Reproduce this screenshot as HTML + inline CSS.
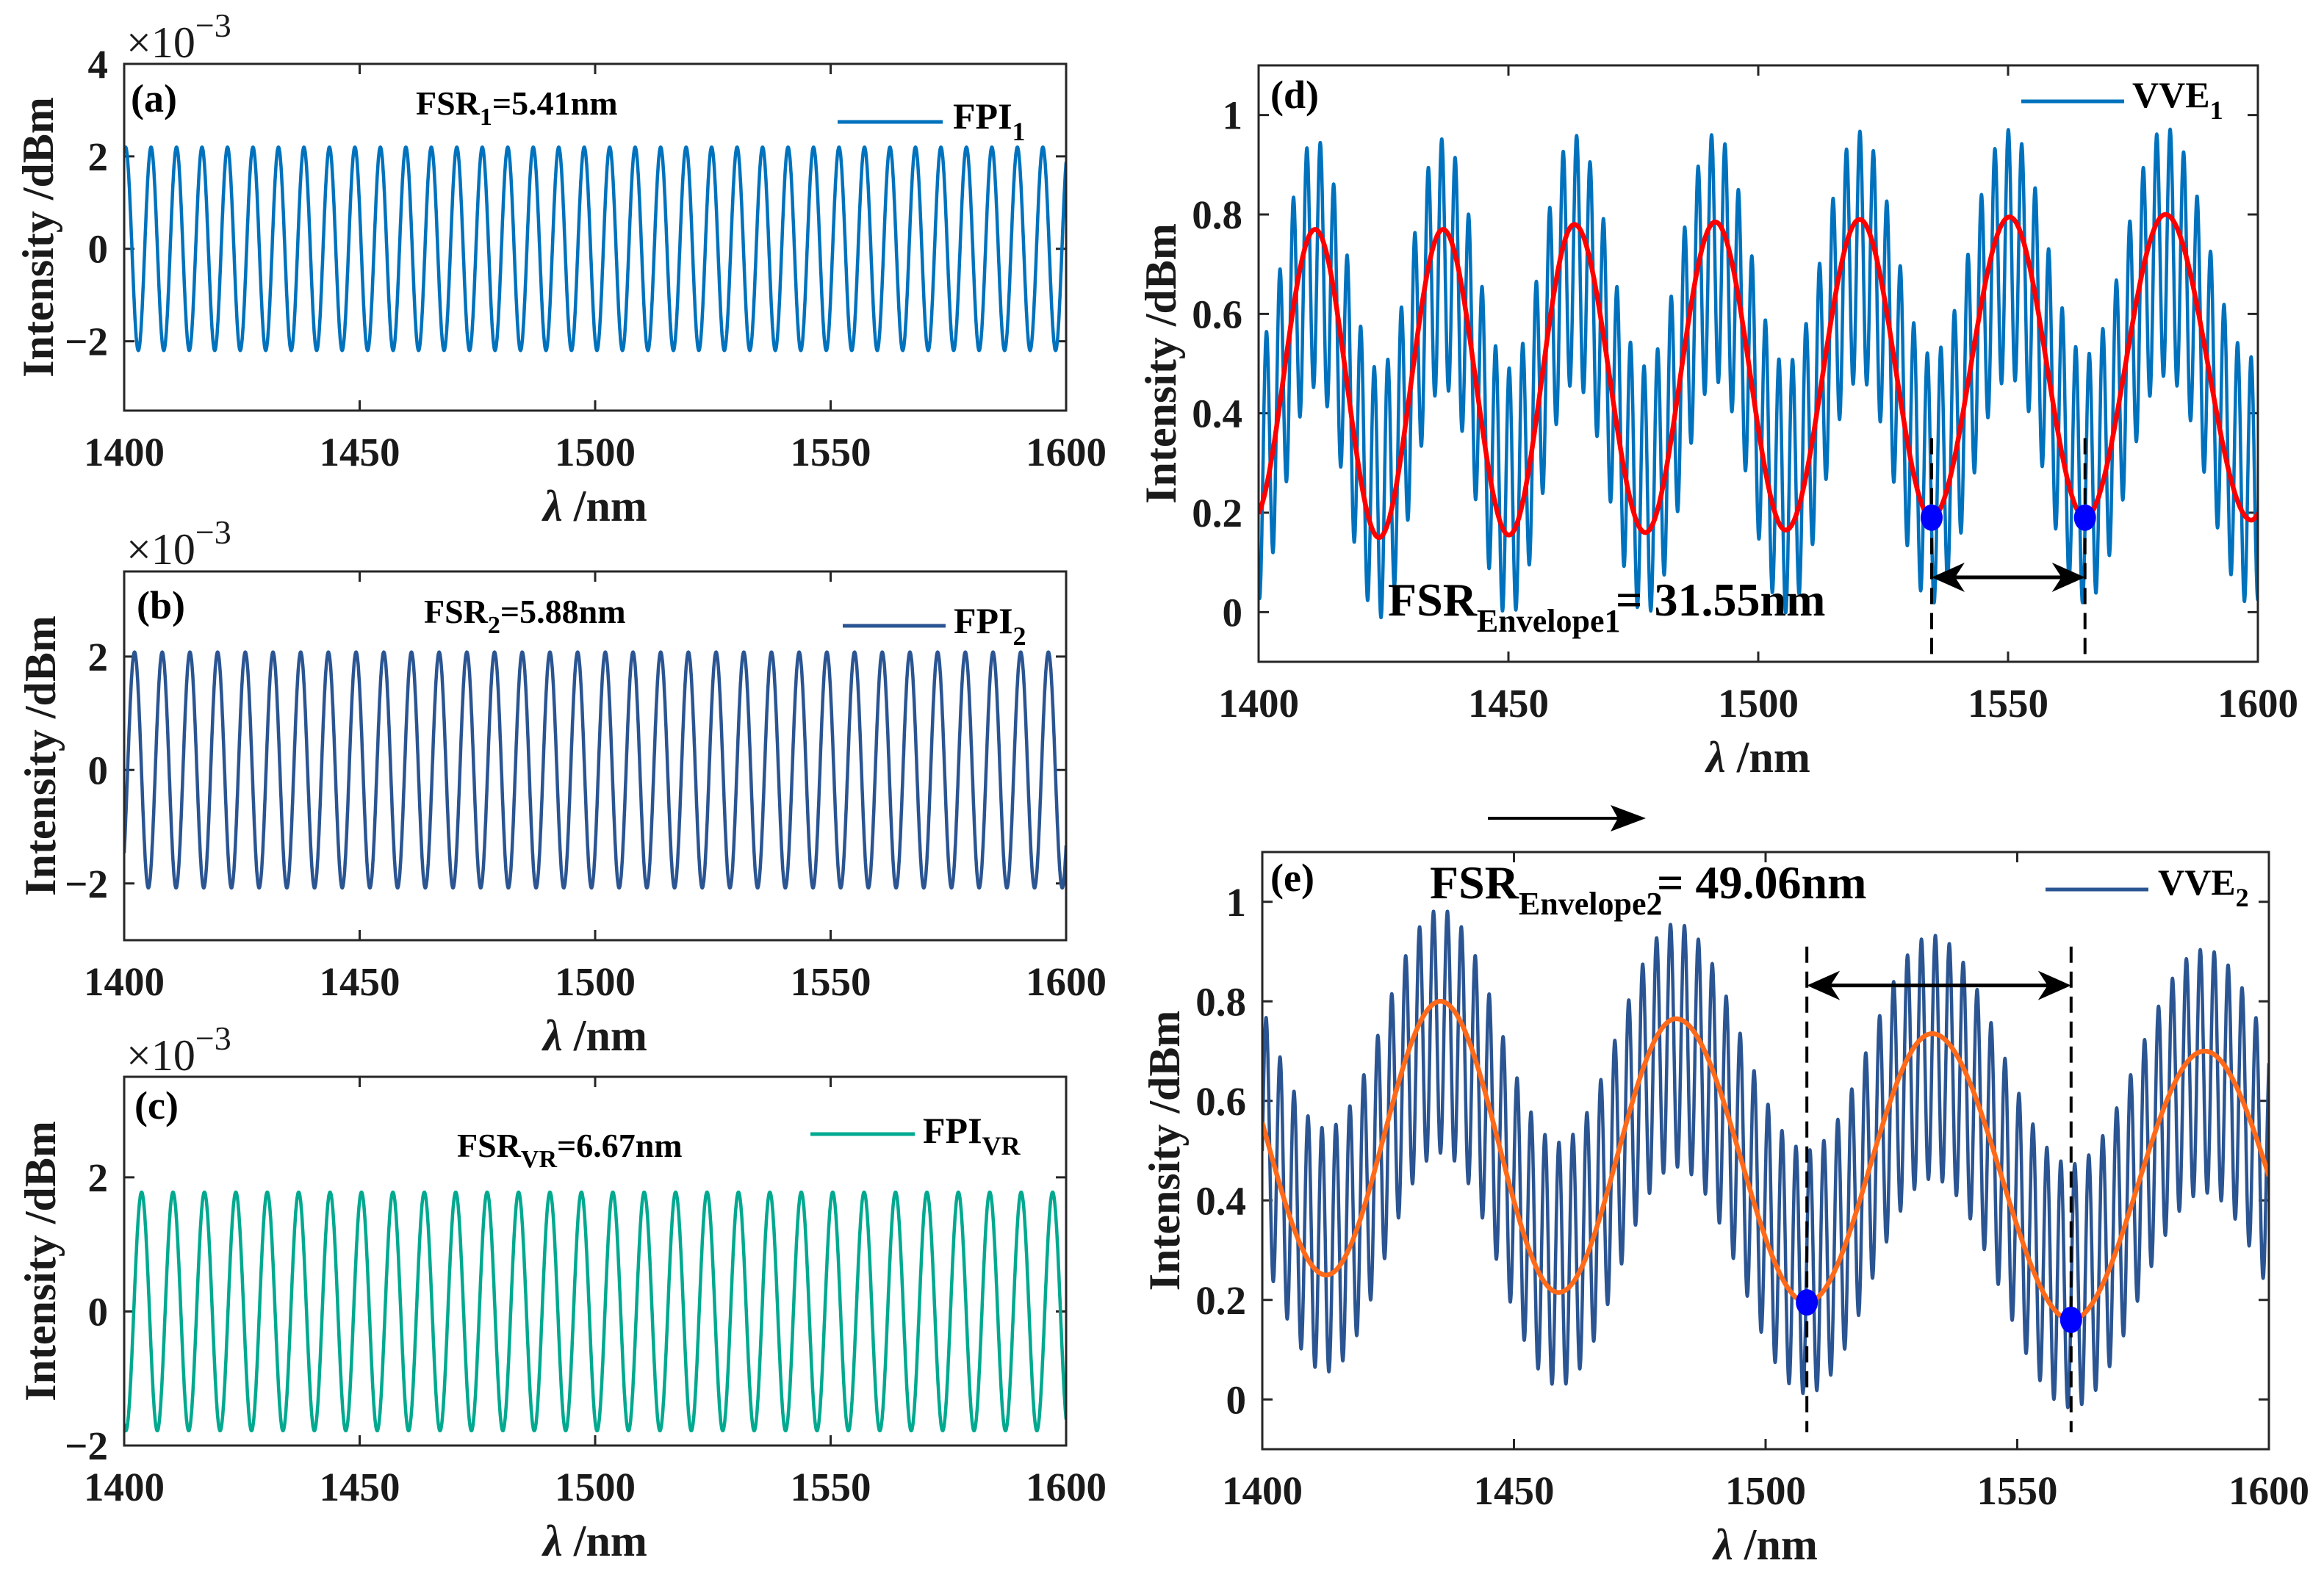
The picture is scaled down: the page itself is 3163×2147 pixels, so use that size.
<!DOCTYPE html>
<html><head><meta charset="utf-8">
<style>
html,body{margin:0;padding:0;background:#fff;}
svg{display:block;font-family:"Liberation Serif",serif;}
.tick{font-size:55px;font-weight:bold;fill:#1a1a1a;}
.lab{font-size:60px;font-weight:bold;fill:#1a1a1a;}
.ann{font-weight:bold;fill:#000;}
</style></head>
<body>
<svg id="fig" width="3163" height="2147" viewBox="0 0 3163 2147" xmlns="http://www.w3.org/2000/svg"></svg>
<script>
// ---- data ----
const xRange = [1400, 1600];
const xTicks = [1400, 1450, 1500, 1550, 1600];
// FPI sinusoids: [amplitude (x1e-3), period nm, first peak nm]
const fpi1Params = [2.2, 5.41, 1400.3];
const fpi2Params = [2.08, 5.88, 1402.2];
const fpiVrParams = [1.78, 6.67, 1403.7];
// Envelope 1 extrema (panel d)
const env1X = [1398.8, 1411.3, 1424.1, 1436.9, 1450.1, 1463.2, 1477.4, 1491.4, 1505.5, 1520.3, 1534.7, 1550.3, 1565.4, 1581.5, 1598.7, 1612];
const env1Y = [0.185, 0.77, 0.15, 0.77, 0.155, 0.78, 0.16, 0.785, 0.165, 0.79, 0.19, 0.795, 0.19, 0.80, 0.185, 0.80];
// carrier for VVE1: [amplitude, period nm, trough position nm, envelope compression]
const vve1Carrier = [0.25, 2.70, 1411.0, 0.75];
// Envelope 2 extrema (panel e)
const env2X = [1389, 1412.7, 1435.4, 1458.9, 1482.2, 1508.2, 1533.1, 1560.7, 1587.2, 1614];
const env2Y = [0.80, 0.25, 0.80, 0.215, 0.765, 0.195, 0.735, 0.16, 0.70, 0.16];
const vve2Carrier = [0.245, 2.77, 1435.4, 0.8];
// markers
const dotsD = [[1534.7, 0.19], [1565.4, 0.19]];
const dotsE = [[1508.2, 0.195], [1560.7, 0.16]];

const NS = "http://www.w3.org/2000/svg";
const svg = document.getElementById('fig');
function el(tag, attrs, parent) {
  const e = document.createElementNS(NS, tag);
  for (const k in attrs) e.setAttribute(k, attrs[k]);
  (parent || svg).appendChild(e);
  return e;
}
function envAt(xs, ys, x) {
  for (let i = 0; i < xs.length - 1; i++) {
    if (x >= xs[i] && x <= xs[i + 1]) {
      const t = (x - xs[i]) / (xs[i + 1] - xs[i]);
      return ys[i] + (ys[i + 1] - ys[i]) * (1 - Math.cos(Math.PI * t)) / 2;
    }
  }
  return ys[ys.length - 1];
}

function makePanel(id, l, r, t, b, y0, y1, yTicks, yFmt, ylabX) {
  const sx = x => l + (x - xRange[0]) / (xRange[1] - xRange[0]) * (r - l);
  const sy = y => b - (y - y0) / (y1 - y0) * (b - t);
  const g = el('g', {});
  
  
  const cp = el('clipPath', {id: 'clip-' + id}, g);
  el('rect', {x: l, y: t, width: r - l, height: b - t}, cp);
  xTicks.forEach(v => {
    const X = sx(v);
    const tk = el('path', {d: `M${X},${b}V${b - 14}M${X},${t}V${t + 14}`, stroke: '#262626', 'stroke-width': 3}, g);
    
    
    const tl = el('text', {x: X, y: b + 75, 'text-anchor': 'middle', class: 'tick'}, g);
    tl.textContent = v;
    
    
  });
  yTicks.forEach(v => {
    const Y = sy(v);
    const tk = el('path', {d: `M${l},${Y}H${l + 14}M${r},${Y}H${r - 14}`, stroke: '#262626', 'stroke-width': 3}, g);
    
    
    const tl = el('text', {x: l - 22, y: Y + 19, 'text-anchor': 'end', class: 'tick'}, g);
    tl.textContent = yFmt(v);
    
    
  });
  const xl = el('text', {x: (l + r) / 2, y: b + 150, 'text-anchor': 'middle', class: 'lab'}, g);
  xl.innerHTML = '<tspan font-style="italic">λ</tspan> /nm';
  
  
  const cy = (t + b) / 2;
  const yl = el('text', {x: ylabX, y: cy, 'text-anchor': 'middle', class: 'lab', 'font-size': 58, transform: `rotate(-90 ${ylabX} ${cy})`, 'dominant-baseline': 'central'}, g);
  yl.textContent = 'Intensity /dBm';
  
  
  const plot = el('g', {'clip-path': `url(#clip-${id})`}, g);
  const frame = () => {
    const f = el('rect', {x: l, y: t, width: r - l, height: b - t, fill: 'none', stroke: '#262626', 'stroke-width': 3}, g);
    
    
  };
  return {sx, sy, g, plot, frame, l, r, t, b};
}

function polyline(P, xs, fn, color, w, name) {
  let d = '';
  xs.forEach((x, i) => { d += (i ? 'L' : 'M') + P.sx(x).toFixed(1) + ',' + P.sy(fn(x)).toFixed(1); });
  const p = el('path', {d, fill: 'none', stroke: color, 'stroke-width': w, 'stroke-linejoin': 'round'}, P.plot);
  
  
}
function samples(step) { const a = []; for (let x = xRange[0]; x <= xRange[1] + 1e-9; x += step) a.push(x); return a; }
function txt(x, y, html, size, name, extra) {
  const t = el('text', Object.assign({x, y, class: 'ann', 'font-size': size}, extra || {}));
  t.innerHTML = html;
  
  
  return t;
}
function legendLine(x1, x2, y, color, name) {
  const ln = el('line', {x1, x2, y1: y, y2: y, stroke: color, 'stroke-width': 5});
  
  
}
function exponent(x, y, name) {
  const t = el('text', {x, y, 'font-size': 60, fill: '#1a1a1a'});
  t.innerHTML = '×10<tspan dy="-28" font-size="46">−3</tspan>';
  
  
}
const intFmt = v => (v < 0 ? '−' : '') + Math.abs(v);
const decFmt = v => (v === 0 ? '0' : v === 1 ? '1' : v.toFixed(1));
const sinFn = p => x => p[0] * Math.cos(2 * Math.PI * (x - p[2]) / p[1]);
const vveFn = (envFn, c) => x => 0.5 + (envFn(x) - 0.5) * c[3] - c[0] * Math.cos(2 * Math.PI * (x - c[2]) / c[1]);

// Panel (a)
const A = makePanel('a', 169, 1451, 87, 559, -3.5, 4, [-2, 0, 2, 4], intFmt, 52);
polyline(A, samples(0.05), sinFn(fpi1Params), '#0072BD', 4.5, 'fpi1-line');
A.frame();
exponent(172, 78, 'exponent-a');
txt(178, 152, '(a)', 54, 'panel-label-a');
txt(566, 156, 'FSR<tspan dy="14" font-size="34">1</tspan><tspan dy="-14">=5.41nm</tspan>', 46, 'fsr1-annotation');
legendLine(1140, 1283, 166, '#0072BD', 'legend-fpi1-line');
txt(1297, 175, 'FPI<tspan dy="16" font-size="36">1</tspan>', 50, 'legend-fpi1-label');

// Panel (b)
const B = makePanel('b', 169, 1451, 778, 1280, -3, 3.5, [-2, 0, 2], intFmt, 55);
polyline(B, samples(0.05), sinFn(fpi2Params), '#2B5592', 4.5, 'fpi2-line');
B.frame();
exponent(172, 768, 'exponent-b');
txt(186, 842, '(b)', 54, 'panel-label-b');
txt(577, 848, 'FSR<tspan dy="14" font-size="34">2</tspan><tspan dy="-14">=5.88nm</tspan>', 46, 'fsr2-annotation');
legendLine(1147, 1287, 852, '#2B5592', 'legend-fpi2-line');
txt(1298, 862, 'FPI<tspan dy="16" font-size="36">2</tspan>', 50, 'legend-fpi2-label');

// Panel (c)
const C = makePanel('c', 169, 1451, 1466, 1968, -2, 3.5, [-2, 0, 2], intFmt, 55);
polyline(C, samples(0.05), sinFn(fpiVrParams), '#00A98F', 4.5, 'fpivr-line');
C.frame();
exponent(172, 1457, 'exponent-c');
txt(183, 1523, '(c)', 54, 'panel-label-c');
txt(622, 1575, 'FSR<tspan dy="14" font-size="34">VR</tspan><tspan dy="-14">=6.67nm</tspan>', 46, 'fsrvr-annotation');
legendLine(1103, 1245, 1544, '#00A98F', 'legend-fpivr-line');
txt(1256, 1556, 'FPI<tspan dy="16" font-size="36">VR</tspan>', 50, 'legend-fpivr-label');

function dashed(P, x, ya, yb, name) {
  const d = el('line', {x1: P.sx(x), x2: P.sx(x), y1: P.sy(ya), y2: P.sy(yb), stroke: '#000', 'stroke-width': 4, 'stroke-dasharray': '22 12'});
  
  
}
function dblArrow(P, xa, xb, y, name) {
  const X1 = P.sx(xa), X2 = P.sx(xb), Y = P.sy(y);
  const g = el('g', {});
  
  
  el('line', {x1: X1 + 10, x2: X2 - 10, y1: Y, y2: Y, stroke: '#000', 'stroke-width': 5}, g);
  el('path', {d: `M${X1},${Y}L${X1 + 45},${Y - 20}L${X1 + 32},${Y}L${X1 + 45},${Y + 20}Z`, fill: '#000'}, g);
  el('path', {d: `M${X2},${Y}L${X2 - 45},${Y - 20}L${X2 - 32},${Y}L${X2 - 45},${Y + 20}Z`, fill: '#000'}, g);
}
function dots(P, arr, name) {
  arr.forEach(p => {
    const c = el('ellipse', {cx: P.sx(p[0]), cy: P.sy(p[1]), rx: 15, ry: 18, fill: '#0000FF'});
    
    
  });
}

// Panel (d)
const D = makePanel('d', 1713, 3073, 89, 901, -0.1, 1.1, [0, 0.2, 0.4, 0.6, 0.8, 1], decFmt, 1580);
const env1 = x => envAt(env1X, env1Y, x);
polyline(D, samples(0.04), vveFn(env1, vve1Carrier), '#0072BD', 4.5, 'vve1-line');
polyline(D, samples(0.2), env1, '#FF0000', 6.5, 'envelope1-line');
D.frame();
dashed(D, dotsD[0][0], 0.35, -0.085, 'envelope1-marker-left');
dashed(D, dotsD[1][0], 0.35, -0.085, 'envelope1-marker-right');
dots(D, dotsD, 'envelope1-min-dot');
dblArrow(D, dotsD[0][0], dotsD[1][0], 0.07, 'fsr-envelope1-arrow');
txt(1729, 147, '(d)', 54, 'panel-label-d');
txt(1889, 838, 'FSR<tspan dy="22" font-size="44">Envelope1</tspan><tspan dy="-22" x="2199">= 31.55nm</tspan>', 64, 'fsr-envelope1-annotation');
legendLine(2751, 2891, 138, '#0072BD', 'legend-vve1-line');
txt(2902, 146, 'VVE<tspan dy="16" font-size="36">1</tspan>', 50, 'legend-vve1-label');

// connecting arrow
const ca = el('g', {});


el('line', {x1: 2025, x2: 2215, y1: 1114, y2: 1114, stroke: '#000', 'stroke-width': 4}, ca);
el('path', {d: 'M2240,1114L2192,1096L2202,1114L2192,1132Z', fill: '#000'}, ca);

// Panel (e)
const E = makePanel('e', 1718, 3088, 1160, 1973, -0.1, 1.1, [0, 0.2, 0.4, 0.6, 0.8, 1], decFmt, 1585);
const env2 = x => envAt(env2X, env2Y, x);
polyline(E, samples(0.04), vveFn(env2, vve2Carrier), '#2B5592', 4.5, 'vve2-line');
polyline(E, samples(0.2), env2, '#FF6A1A', 6.5, 'envelope2-line');
E.frame();
dashed(E, dotsE[0][0], 0.91, -0.066, 'envelope2-marker-left');
dashed(E, dotsE[1][0], 0.91, -0.066, 'envelope2-marker-right');
dots(E, dotsE, 'envelope2-min-dot');
dblArrow(E, dotsE[0][0], dotsE[1][0], 0.832, 'fsr-envelope2-arrow');
txt(1729, 1213, '(e)', 54, 'panel-label-e');
txt(1946, 1223, 'FSR<tspan dy="22" font-size="44">Envelope2</tspan><tspan dy="-22" x="2255">= 49.06nm</tspan>', 64, 'fsr-envelope2-annotation');
legendLine(2784, 2924, 1211, '#2B5592', 'legend-vve2-line');
txt(2937, 1218, 'VVE<tspan dy="16" font-size="36">2</tspan>', 50, 'legend-vve2-label');
</script>
</body></html>
